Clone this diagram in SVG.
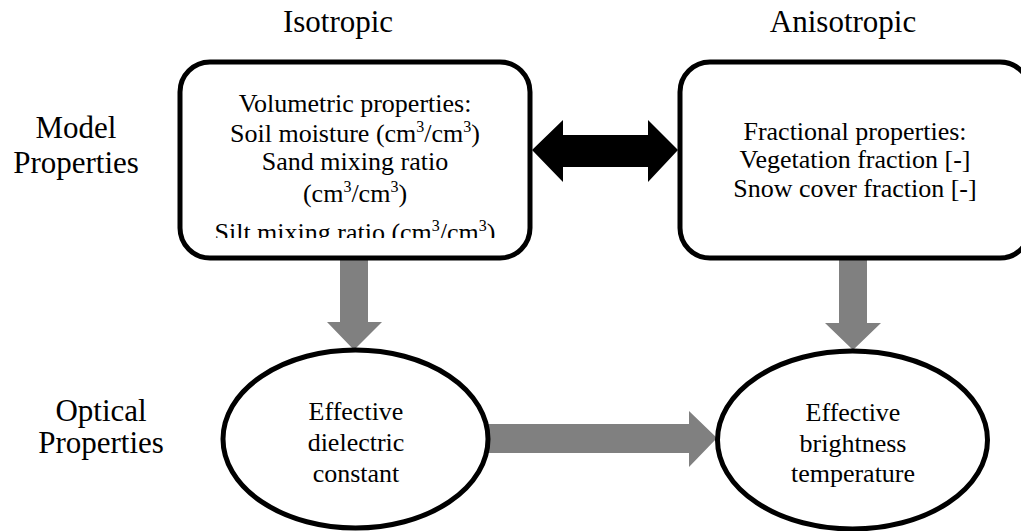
<svg xmlns="http://www.w3.org/2000/svg" width="1021" height="531" viewBox="0 0 1021 531">
<style>
.lbl{font-family:"Liberation Serif","Times New Roman",serif;font-size:31px;fill:#000;text-anchor:middle}
.t{font-family:"Liberation Serif","Times New Roman",serif;font-size:26px;fill:#000;text-anchor:middle}
.box{fill:#fff;stroke:#000;stroke-width:5}
.gray{fill:#808080}
.sup{font-size:16px}
</style>
<defs>
<clipPath id="clipL"><rect x="180" y="62" width="350" height="176"/></clipPath>
</defs>
<g id="labels">
<text class="lbl" x="338" y="32">Isotropic</text>
<text class="lbl" x="843" y="32">Anisotropic</text>
<text class="lbl" x="76" y="138">Model</text>
<text class="lbl" x="76" y="173">Properties</text>
<text class="lbl" x="101" y="421">Optical</text>
<text class="lbl" x="101" y="453">Properties</text>
</g>
<g id="connectors">
<polygon class="gray" points="340,258 368,258 368,322 382,322 354,350 327,322 340,322"/>
<polygon class="gray" points="839,258 867,258 867,323 881,323 853,350 825,323 839,323"/>
<polygon class="gray" points="488,424 689,424 689,411 717,438 689,467 689,453 488,453"/>
<polygon fill="#000" points="532,150 563,120 563,135 648,135 648,120 678,150 648,182 648,167 563,167 563,182"/>
</g>
<g id="node-volumetric">
<rect class="box" x="180" y="62" width="350" height="196" rx="30" ry="30"/>
<g clip-path="url(#clipL)">
<text class="t" x="355" y="112">Volumetric properties:</text>
<text class="t" x="355" y="142">Soil moisture (cm<tspan class="sup" dy="-10">3</tspan><tspan dy="10">/cm</tspan><tspan class="sup" dy="-10">3</tspan><tspan dy="10">)</tspan></text>
<text class="t" x="355" y="170">Sand mixing ratio</text>
<text class="t" x="355" y="202">(cm<tspan class="sup" dy="-10">3</tspan><tspan dy="10">/cm</tspan><tspan class="sup" dy="-10">3</tspan><tspan dy="10">)</tspan></text>
<text class="t" x="355" y="241">Silt mixing ratio (cm<tspan class="sup" dy="-10">3</tspan><tspan dy="10">/cm</tspan><tspan class="sup" dy="-10">3</tspan><tspan dy="10">)</tspan></text>
</g>
</g>
<g id="node-fractional">
<rect class="box" x="680" y="62" width="350" height="196" rx="30" ry="30"/>
<text class="t" x="855" y="140">Fractional properties:</text>
<text class="t" x="855" y="168">Vegetation fraction [-]</text>
<text class="t" x="855" y="197">Snow cover fraction [-]</text>
</g>
<g id="node-dielectric">
<ellipse class="box" cx="355.5" cy="439" rx="132.5" ry="89"/>
<text class="t" x="356" y="420">Effective</text>
<text class="t" x="356" y="451">dielectric</text>
<text class="t" x="356" y="482">constant</text>
</g>
<g id="node-brightness">
<ellipse class="box" cx="852.5" cy="440" rx="135" ry="89"/>
<text class="t" x="853" y="421">Effective</text>
<text class="t" x="853" y="452">brightness</text>
<text class="t" x="853" y="482">temperature</text>
</g>
</svg>
